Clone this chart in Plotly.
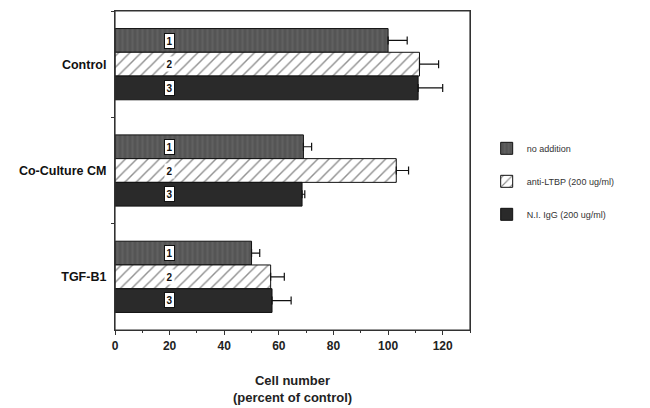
import plotly.graph_objects as go

categories = ["Control", "Co-Culture CM", "TGF-B1"]
series_names = ["no addition", "anti-LTBP (200 ug/ml)", "N.I. IgG (200 ug/ml)"]
series_labels = ["1", "2", "3"]
no_addition = [100, 69, 50]
anti_ltbp = [111.5, 103, 57]
ni_igg = [111, 68.5, 57.5]
err_no_addition = [7, 3, 3]
err_anti_ltbp = [7, 4.5, 5]
err_ni_igg = [9, 1, 7]
x_ticks = [0, 20, 40, 60, 80, 100, 120]

values = [no_addition, anti_ltbp, ni_igg]
errors = [err_no_addition, err_anti_ltbp, err_ni_igg]

styles = [
    dict(color="#5a5a5a", pattern=dict(shape="|", fgcolor="#6c6c6c", bgcolor="#555555", size=5, solidity=0.4)),
    dict(color="white", pattern=dict(shape="/", fgcolor="#222222", bgcolor="white", size=8, solidity=0.18)),
    dict(color="#2a2a2a"),
]

fig = go.Figure()
for name, vals, errs, st in zip(series_names, values, errors, styles):
    fig.add_trace(go.Bar(
        y=categories, x=vals, orientation="h", name=name,
        marker=dict(line=dict(color="#111111", width=1), **st),
        error_x=dict(type="data", symmetric=False, array=errs,
                     arrayminus=[0] * len(errs), color="#111111",
                     thickness=1.2, width=4),
        legendgroup=name,
    ))

LABEL_X = 20
bar_px = 23.6
for i, lab in enumerate(series_labels):
    for cat in categories:
        fig.add_annotation(
            x=LABEL_X, y=cat, text="<b>" + lab + "</b>", showarrow=False,
            yshift=(1 - i) * bar_px,
            font=dict(family="Arial", size=10, color="#111111"),
            bgcolor="white",
            bordercolor="#111111" if lab != "2" else "rgba(0,0,0,0)",
            borderwidth=1, borderpad=1.5,
        )

# frame around the plotting area
fig.add_shape(type="rect", xref="x domain", yref="y domain", x0=0, x1=1, y0=0, y1=1,
              line=dict(color="#333333", width=1.2), layer="above")

fig.update_layout(
    width=650, height=408,
    barmode="group", bargap=0.33, bargroupgap=0,
    plot_bgcolor="white", paper_bgcolor="white",
    margin=dict(l=107, r=188, t=3, b=86, autoexpand=False),
    font=dict(family="Arial", color="#222222"),
    showlegend=True,
    legend=dict(x=1.047, y=0.615, xanchor="left", yanchor="top",
                font=dict(size=9, color="#333333"), tracegroupgap=14,
                itemwidth=30, bgcolor="rgba(0,0,0,0)"),
    xaxis=dict(
        range=[0, 130], tickvals=x_ticks, ticks="outside", ticklen=4,
        tickcolor="#333333", showgrid=False, zeroline=False, automargin=False,
        showline=True, linecolor="#333333", linewidth=1.2, mirror=True,
        tickfont=dict(size=12, family="Arial", color="#222222", weight="bold"),
        minor=dict(dtick=10, ticks="outside", ticklen=2, tickcolor="#333333"),
        title=dict(text="Cell number<br>(percent of control)",
                   font=dict(size=13, color="#222222", weight="bold"), standoff=24),
    ),
    yaxis=dict(
        autorange="reversed", tickson="boundaries", ticks="outside",
        ticklen=3, tickcolor="#333333", showgrid=False, automargin=False,
        showline=True, linecolor="#333333", linewidth=1.2, mirror=True,
        ticklabelstandoff=5,
        tickfont=dict(size=12.5, family="Arial", color="#111111", weight="bold"),
    ),
)

fig.write_html("out.html")
